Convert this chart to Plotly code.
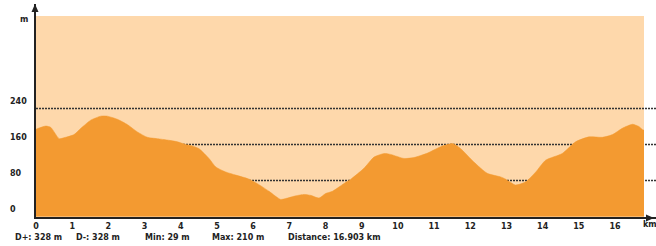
import plotly.graph_objects as go

# Elevation profile (distance in km, elevation in m)
distance_km = [0.00, 0.27, 0.41, 0.64, 0.77, 1.05, 1.24, 1.51, 1.79, 1.97, 2.25, 2.53, 2.80,
               3.08, 3.35, 3.63, 3.91, 4.14, 4.27, 4.50, 4.78, 4.97, 5.24, 5.52, 5.89, 6.12,
               6.44, 6.76, 6.90, 7.18, 7.41, 7.59, 7.82, 8.00, 8.19, 8.56, 8.70, 9.06, 9.34,
               9.62, 9.80, 10.17, 10.44, 10.82, 11.18, 11.51, 11.73, 12.10, 12.47, 12.84,
               12.98, 13.25, 13.53, 13.81, 14.08, 14.54, 14.91, 15.28, 15.65, 15.93, 16.20,
               16.48, 16.66, 16.76, 16.80]
elevation_m = [194, 201, 198, 173, 175, 182, 196, 214, 223, 223, 216, 204, 188,
               176, 173, 170, 166, 160, 158, 151, 129, 110, 99, 92, 83, 73,
               56, 38, 40, 46, 49, 47, 41, 51, 56, 76, 83, 107, 132,
               140, 138, 129, 131, 141, 155, 162, 151, 121, 96, 88,
               83, 70, 77, 99, 125, 140, 166, 177, 176, 182, 196,
               205, 200, 193, 192]

x_ticks = list(range(0, 17))
y_levels = [0, 80, 160, 240]
y_level_labels = ["0", "80", "160", "240"]
grid_levels = [80, 160, 240]
stats = ["D+: 328 m", "D-: 328 m", "Min: 29 m", "Max: 210 m", "Distance: 16.903 km"]
stats_x_px = [12.5, 74, 143, 210, 286]

BG = "#FED8AB"
FILL = "#F39A31"
INK = "#222222"
FONT = "DejaVu Sans"

W, H = 656, 246
L, R, T, B = 36, 0, 4, 29
PW, PH = W - L - R, H - T - B

fig = go.Figure()
fig.add_trace(go.Scatter(
    x=distance_km, y=elevation_m, mode="lines", fill="tozeroy",
    line=dict(color=FILL, width=0.5, shape="spline", smoothing=0.6),
    fillcolor=FILL, hoverinfo="skip", showlegend=False))

shapes = [dict(type="rect", xref="paper", yref="paper", x0=0, x1=(644 - L) / PW,
               y0=0, y1=(217 - 16) / PH, fillcolor=BG, line=dict(width=0), layer="below")]
for g in grid_levels:
    shapes.append(dict(type="line", xref="paper", yref="y", x0=0, x1=1, y0=g, y1=g,
                       line=dict(color="#333333", width=1.5, dash="2px,1px"), layer="below"))
# arrow heads
shapes.append(dict(type="path", xref="paper", yref="paper", xsizemode="pixel", ysizemode="pixel",
                   xanchor=0, yanchor=1, path="M -1,0 L -4.5,-8 L 2.5,-8 Z",
                   fillcolor=INK, line=dict(width=0)))
shapes.append(dict(type="path", xref="paper", yref="paper", xsizemode="pixel", ysizemode="pixel",
                   xanchor=1, yanchor=0, path="M -2,-1 L -10,2.5 L -10,-4.5 Z",
                   fillcolor=INK, line=dict(width=0)))

annotations = []
for v, t in zip(y_levels, y_level_labels):
    annotations.append(dict(x=(7.5 - L) / PW, xref="paper", y=v, yref="y", text=t,
                            showarrow=False, xanchor="left", yanchor="middle", yshift=7,
                            font=dict(family=FONT, size=8, color=INK, weight="bold")))
annotations.append(dict(x=(24 - L) / PW, xref="paper", y=(217 - 19) / PH, yref="paper", text="m",
                        showarrow=False, xanchor="center", yanchor="middle",
                        font=dict(family=FONT, size=8, color=INK, weight="bold")))
annotations.append(dict(x=(641 - L) / PW, xref="paper", y=(217 - 224) / PH, yref="paper", text="km",
                        showarrow=False, xanchor="left", yanchor="middle",
                        font=dict(family=FONT, size=8, color=INK, weight="bold")))
for s, px in zip(stats, stats_x_px):
    annotations.append(dict(x=(px - L) / PW, xref="paper", y=(217 - 237) / PH, yref="paper", text=s,
                            showarrow=False, xanchor="left", yanchor="middle",
                            font=dict(family=FONT, size=8, color=INK, weight="bold")))

fig.update_layout(
    width=W, height=H, margin=dict(l=L, r=R, t=T, b=B, pad=0),
    paper_bgcolor="white", plot_bgcolor="white",
    shapes=shapes, annotations=annotations, showlegend=False,
    xaxis=dict(range=[0, PW / 36.19], tickmode="array", tickvals=x_ticks,
               ticktext=[str(v) for v in x_ticks], ticks="", showgrid=False, zeroline=False,
               showline=True, linecolor=INK, linewidth=2, automargin=False,
               tickfont=dict(family=FONT, size=8, color=INK, weight="bold")),
    yaxis=dict(range=[-1.1, 472.2], showticklabels=False, ticks="", showgrid=False,
               zeroline=False, showline=True, linecolor=INK, linewidth=2, automargin=False),
)
fig.write_html("out.html", config={"displayModeBar": False},
               post_script="document.body.style.margin='0';document.body.style.overflow='hidden';")
